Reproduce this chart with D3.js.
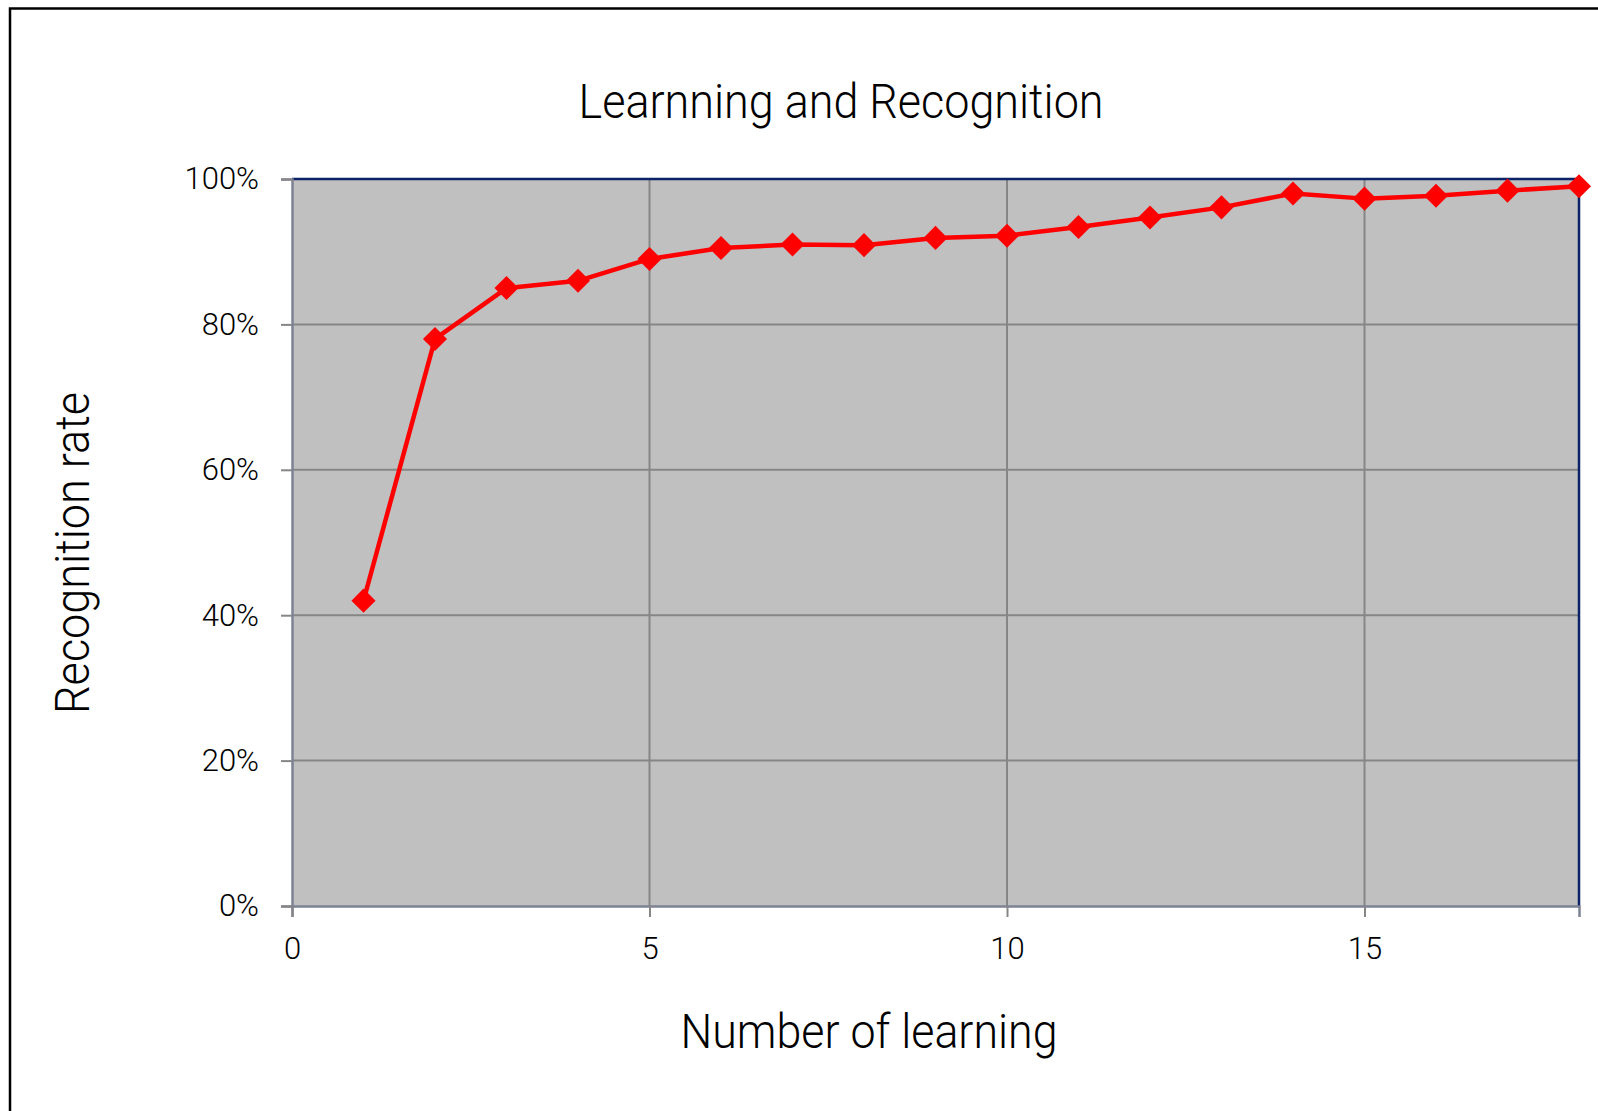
<!DOCTYPE html>
<html>
<head>
<meta charset="utf-8">
<script src="https://cdn.jsdelivr.net/npm/d3@7"></script>
<style>
  html, body { margin: 0; padding: 0; background: #fff; }
  svg { display: block; }
  text { font-family: Roboto, "Noto Sans", sans-serif; font-weight: 300; fill: #000; }
</style>
</head>
<body>
<svg id="chart" width="1598" height="1111"></svg>
<script>
const learningCounts = [1,2,3,4,5,6,7,8,9,10,11,12,13,14,15,16,17,18];
const recognitionRates = [0.42,0.78,0.85,0.86,0.89,0.905,0.91,0.909,0.919,0.922,0.934,0.947,0.961,0.980,0.973,0.977,0.984,0.990];
const xTicks = [0,5,10,15];
const yTicks = [0,0.2,0.4,0.6,0.8,1.0];
const titleText = "Learnning and Recognition";
const xLabelText = "Number of learning";
const yLabelText = "Recognition rate";

const svg = d3.select("#chart");
const W = 1598, H = 1111;
const plot = {left: 292, right: 1579, top: 179, bottom: 906};
const FONT = 'Roboto, "Noto Sans", sans-serif';

svg.append("rect").attr("x",0).attr("y",0).attr("width",W).attr("height",H).attr("fill","#fff");
// outer chart border (extends off-canvas on right/bottom)
svg.append("rect").attr("x",10).attr("y",8.5).attr("width",1700).attr("height",1300)
  .attr("fill","none").attr("stroke","#000").attr("stroke-width",2.5);

const x = d3.scaleLinear().domain([0,18]).range([plot.left, plot.right]);
const y = d3.scaleLinear().domain([0,1]).range([plot.bottom, plot.top]);

// plot background
svg.append("rect").attr("x",plot.left).attr("y",plot.top)
  .attr("width",plot.right-plot.left).attr("height",plot.bottom-plot.top)
  .attr("fill","#c0c0c0");

// gridlines
const grid = svg.append("g");
grid.selectAll("line.h").data(yTicks.filter(d=>d>0 && d<1)).join("line")
  .attr("x1",plot.left).attr("x2",plot.right)
  .attr("y1",d=>y(d)).attr("y2",d=>y(d))
  .attr("stroke","#868686").attr("stroke-width",2);
grid.selectAll("line.v").data(xTicks.filter(d=>d>0)).join("line")
  .attr("y1",plot.top).attr("y2",plot.bottom)
  .attr("x1",d=>x(d)).attr("x2",d=>x(d))
  .attr("stroke","#868686").attr("stroke-width",2);

// plot border top/right navy
svg.append("path")
  .attr("d",`M${plot.left},${plot.top}H${plot.right}V${plot.bottom}`)
  .attr("fill","none").attr("stroke","#0b2266").attr("stroke-width",2.5);

// axes
const xAxis = d3.axisBottom(x).tickValues(xTicks).tickSize(11).tickPadding(6).tickFormat(d3.format("d"));
const yAxis = d3.axisLeft(y).tickValues(yTicks).tickSize(11).tickPadding(22).tickFormat(d3.format(".0%"));

const gx = svg.append("g").attr("transform",`translate(0,${plot.bottom})`).call(xAxis);
const gy = svg.append("g").attr("transform",`translate(${plot.left},0)`).call(yAxis);
[gx, gy].forEach(g => {
  g.select(".domain").attr("stroke","#7d8294").attr("stroke-width",2.5);
  g.selectAll(".tick line").attr("stroke","#868686").attr("stroke-width",2);
  g.selectAll(".tick text").attr("font-size",31).attr("fill","#000")
    .attr("font-family",FONT).attr("font-weight",300);
});
gx.selectAll(".tick text").attr("dy",null).attr("y",53);

// series line
const line = d3.line().x((d,i)=>x(learningCounts[i])).y(d=>y(d));
svg.append("path").datum(recognitionRates)
  .attr("d",line).attr("fill","none").attr("stroke","#ff0000").attr("stroke-width",4.5)
  .attr("stroke-linejoin","round");

// markers
const diamond = d3.symbol().type(d3.symbolSquare).size(290);
svg.append("g").selectAll("path").data(recognitionRates).join("path")
  .attr("d",diamond)
  .attr("transform",(d,i)=>`translate(${x(learningCounts[i])},${y(d)}) rotate(45)`)
  .attr("fill","#ff0000");

// title
svg.append("text").attr("x",841).attr("y",118).attr("text-anchor","middle")
  .attr("font-size",48).attr("textLength",525).attr("lengthAdjust","spacingAndGlyphs")
  .text(titleText);
// x label
svg.append("text").attr("x",869).attr("y",1048).attr("text-anchor","middle")
  .attr("font-size",48).attr("textLength",377).attr("lengthAdjust","spacingAndGlyphs")
  .text(xLabelText);
// y label
svg.append("text").attr("transform","translate(89,553) rotate(-90)").attr("text-anchor","middle")
  .attr("font-size",48).attr("textLength",322).attr("lengthAdjust","spacingAndGlyphs")
  .text(yLabelText);
</script>
</body>
</html>
